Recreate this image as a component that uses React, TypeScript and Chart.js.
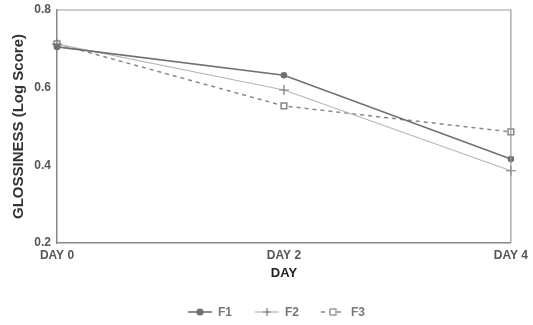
import React, { useEffect, useRef } from "react";
import { Chart, registerables } from "chart.js";

Chart.register(...registerables);

const categories = ["DAY 0", "DAY 2", "DAY 4"];
const f1 = [0.705, 0.632, 0.416];
const f2 = [0.712, 0.594, 0.386];
const f3 = [0.713, 0.553, 0.486];
const yTicks = [0.2, 0.4, 0.6, 0.8];
const seriesNames = ["F1", "F2", "F3"];

function drawMarker(ctx: CanvasRenderingContext2D, style: string, x: number, y: number, r: number, fill: string, stroke: string) {
  ctx.save();
  ctx.setLineDash([]);
  ctx.lineWidth = 1.2;
  ctx.fillStyle = fill;
  ctx.strokeStyle = stroke;
  if (style === "circle") {
    ctx.beginPath();
    ctx.arc(x, y, r, 0, Math.PI * 2);
    ctx.fill();
    ctx.stroke();
  } else if (style === "cross") {
    ctx.beginPath();
    ctx.moveTo(x - r, y);
    ctx.lineTo(x + r, y);
    ctx.moveTo(x, y - r);
    ctx.lineTo(x, y + r);
    ctx.stroke();
  } else {
    ctx.fillRect(x - r, y - r, 2 * r, 2 * r);
    ctx.strokeRect(x - r, y - r, 2 * r, 2 * r);
  }
  ctx.restore();
}

const legendPlugin = {
  id: "customLegend",
  afterDraw(chart: any) {
    const ctx = chart.ctx;
    const y = 312;
    const xs = [200, 267, 333];
    ctx.save();
    chart.data.datasets.forEach((ds: any, i: number) => {
      const x = xs[i];
      ctx.strokeStyle = ds.borderColor;
      ctx.lineWidth = ds.borderWidth;
      ctx.setLineDash(ds.borderDash || []);
      ctx.beginPath();
      ctx.moveTo(x - 12, y);
      ctx.lineTo(x + 12, y);
      ctx.stroke();
      ctx.setLineDash([]);
      drawMarker(ctx, ds.pointStyle, x, y, ds.pointStyle === "cross" ? 4 : 3, ds.pointBackgroundColor, ds.pointBorderColor || ds.borderColor);
      ctx.fillStyle = "#777";
      ctx.font = "bold 12px 'Liberation Sans', Arial, sans-serif";
      ctx.textBaseline = "middle";
      ctx.fillText(seriesNames[i], x + 18, y + 1);
    });
    ctx.restore();
  },
};

export default function App() {
  const ref = useRef<HTMLCanvasElement | null>(null);
  useEffect(() => {
    document.body.style.margin = "0";
    const font = "'Liberation Sans', Arial, sans-serif";
    const chart = new Chart(ref.current!, {
      type: "line",
      data: {
        labels: categories,
        datasets: [
          {
            label: "F1",
            data: f1,
            borderColor: "#707070",
            backgroundColor: "#707070",
            pointBackgroundColor: "#707070",
            borderWidth: 1.6,
            pointStyle: "circle",
            pointRadius: 2.5,
            tension: 0,
          },
          {
            label: "F2",
            data: f2,
            borderColor: "#b8b8b8",
            backgroundColor: "#b8b8b8",
            pointBackgroundColor: "#b8b8b8",
            borderWidth: 1.2,
            pointStyle: "cross",
            pointRadius: 5,
            pointBorderColor: "#777",
            tension: 0,
          },
          {
            label: "F3",
            data: f3,
            borderColor: "#888888",
            backgroundColor: "#ffffff",
            pointBackgroundColor: "#ffffff",
            borderWidth: 1.5,
            borderDash: [4, 4],
            pointStyle: "rect",
            pointRadius: 4,
            tension: 0,
          },
        ],
      },
      options: {
        animation: false,
        responsive: false,
        layout: { padding: { left: 0, right: 22, top: 10, bottom: 44 } },
        plugins: { legend: { display: false }, tooltip: { enabled: false } },
        scales: {
          x: {
            offset: false,
            grid: { display: false, drawTicks: false },
            border: { display: true, color: "#888", width: 1.5 },
            ticks: {
              color: "#555",
              font: { family: font, size: 12, weight: "bold" },
              padding: 5,
              maxRotation: 0,
            },
            title: {
              display: true,
              text: "DAY",
              color: "#222",
              font: { family: font, size: 13, weight: "bold" },
              padding: { top: 0, bottom: 0 },
            },
            afterFit(s: any) {
              s.height = 38;
            },
          },
          y: {
            min: 0.2,
            max: 0.8,
            afterBuildTicks(s: any) {
              s.ticks = yTicks.map((v) => ({ value: v }));
            },
            grid: { display: false, drawTicks: true, tickLength: 4, color: "#888" },
            border: { display: true, color: "#888", width: 1.5 },
            ticks: {
              color: "#555",
              font: { family: font, size: 12, weight: "bold" },
              padding: 2,
              callback: (v: any) => Number(v).toFixed(1),
            },
            title: {
              display: true,
              text: "GLOSSINESS (Log Score)",
              color: "#333",
              font: { family: font, size: 15, weight: "bold" },
              padding: { top: 10, bottom: 0 },
            },
            afterFit(s: any) {
              s.width = 57;
            },
          },
        },
      },
      plugins: [
        legendPlugin,
        {
          id: "frame",
          afterDraw(c: any) {
            const { left, right, top, bottom } = c.chartArea;
            const ctx = c.ctx;
            ctx.save();
            ctx.strokeStyle = "#999";
            ctx.lineWidth = 1.2;
            ctx.beginPath();
            ctx.moveTo(left, top);
            ctx.lineTo(right, top);
            ctx.lineTo(right, bottom);
            ctx.stroke();
            ctx.restore();
          },
        },
      ],
    });
    return () => chart.destroy();
  }, []);
  return (
    <div style={{ position: "absolute", left: 0, top: 0, width: 533, height: 325, background: "#fff" }}>
      <canvas ref={ref} width={533} height={325} />
    </div>
  );
}
